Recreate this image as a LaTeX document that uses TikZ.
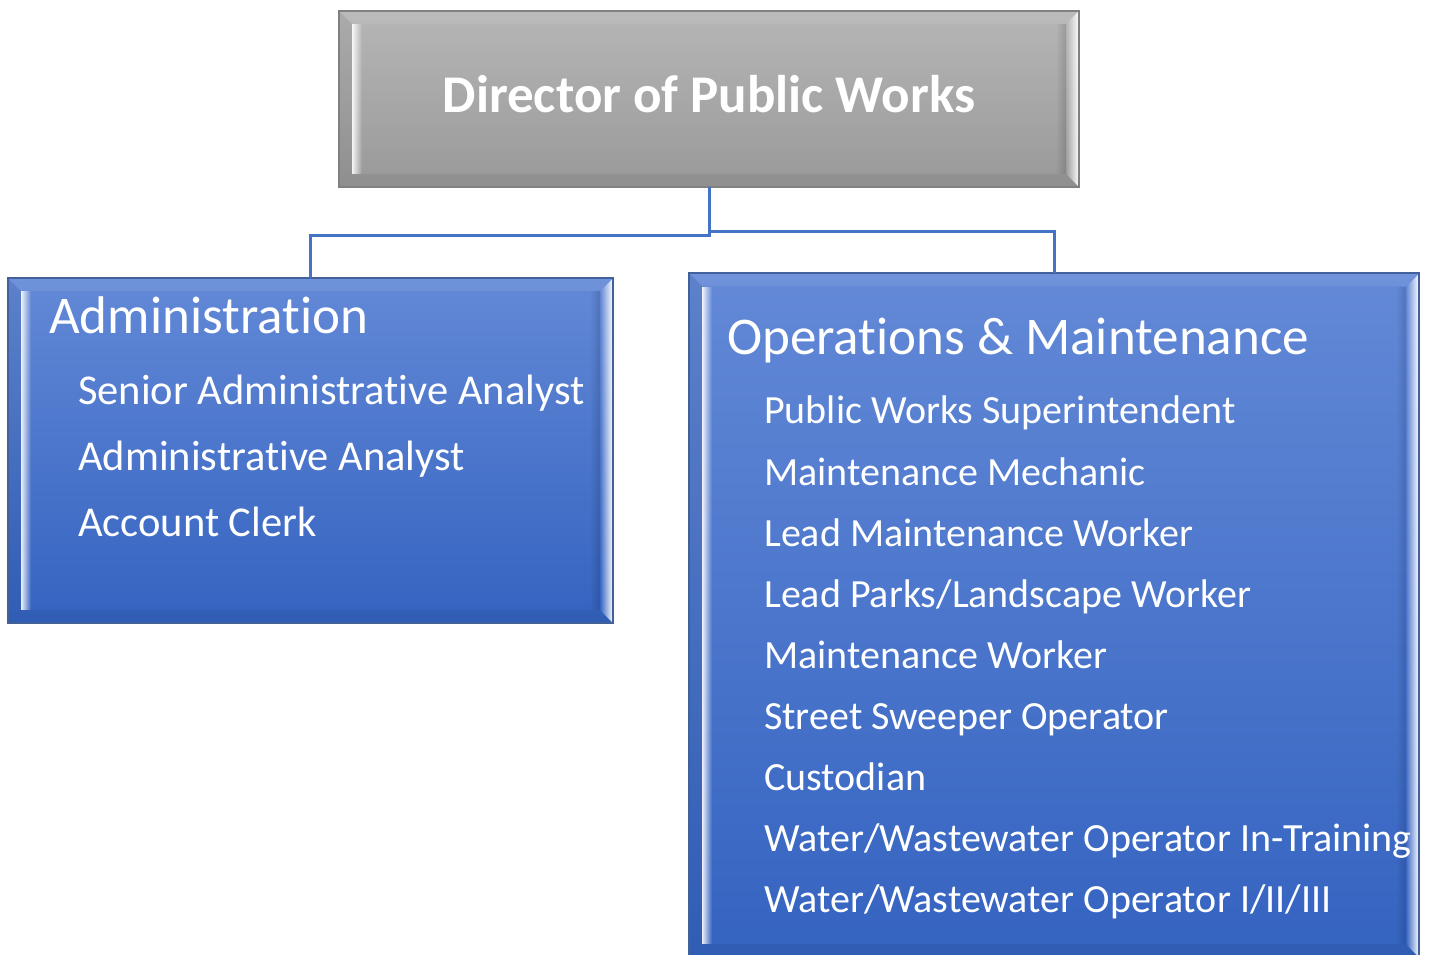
\documentclass[tikz,border=0pt]{standalone}
\usepackage{fontspec}
\setmainfont{Carlito}[Ligatures=NoCommon]
\usetikzlibrary{fadings}
\definecolor{grayTop}{HTML}{B6B6B6}
\definecolor{grayBot}{HTML}{999999}
\definecolor{grayLine}{HTML}{808080}
\definecolor{blueTop}{HTML}{6389D7}
\definecolor{blueBot}{HTML}{3463C0}
\definecolor{blueLine}{HTML}{42609A}
\definecolor{connBlue}{HTML}{4472C4}
\tikzset{
  bevel/.style={path picture={
    \fill[black,opacity=.06] (path picture bounding box.north west) -- ++(13pt,-13pt)
      -- ([shift={(13pt,13pt)}]path picture bounding box.south west)
      -- (path picture bounding box.south west) -- cycle;
    \fill[white,opacity=.9,path fading=east] ([shift={(13pt,-13pt)}]path picture bounding box.north west)
      rectangle ([shift={(23pt,13pt)}]path picture bounding box.south west);
    \fill[white,opacity=.08] (path picture bounding box.north west) -- (path picture bounding box.north east)
      -- ++(-13pt,-13pt) -- ([shift={(13pt,-13pt)}]path picture bounding box.north west) -- cycle;
    \fill[black,opacity=.06] (path picture bounding box.south west) -- (path picture bounding box.south east)
      -- ++(-13pt,13pt) -- ([shift={(13pt,13pt)}]path picture bounding box.south west) -- cycle;
    \fill[black,opacity=.15,path fading=west] ([shift={(-23pt,-13pt)}]path picture bounding box.north east)
      rectangle ([shift={(-13pt,13pt)}]path picture bounding box.south east);
    \fill[white,opacity=1,path fading=west] (path picture bounding box.north east) -- (path picture bounding box.south east)
      -- ++(-13pt,13pt) -- ([shift={(-13pt,-13pt)}]path picture bounding box.north east) -- cycle;
  }},
  graybox/.style={rectangle, inner sep=0pt, outer sep=0pt, draw=grayLine, line width=1.5pt,
    top color=grayTop, bottom color=grayBot, bevel},
  bluebox/.style={rectangle, inner sep=0pt, outer sep=0pt, draw=blueLine, line width=1.5pt,
    top color=blueTop, bottom color=blueBot, bevel},
  title/.style={anchor=base, inner sep=0pt, text=white, font=\fontsize{53}{60}\selectfont\bfseries},
  head/.style={anchor=base west, inner sep=0pt, text=white, font=\fontsize{53}{60}\selectfont},
  aitem/.style={anchor=base west, inner sep=0pt, text=white, font=\fontsize{42.5}{48}\selectfont},
  item/.style={anchor=base west, inner sep=0pt, text=white, font=\fontsize{40}{48}\selectfont},
  conn/.style={draw=connBlue, line width=3pt}
}
\begin{document}
\begin{tikzpicture}[x=1pt,y=-1pt]
\useasboundingbox[fill=white] (0,0) rectangle (1430,955);
% boxes
\node[graybox, minimum width=740pt, minimum height=176pt] (dir) at (709,99) {};
\node[bluebox, minimum width=605pt, minimum height=345pt] (admin) at (310.5,450.5) {};
\node[bluebox, minimum width=730pt, minimum height=684pt] (ops) at (1054,615) {};
% connectors
\draw[conn] (dir.south) -- ++(0,48) -| (admin.north);
\draw[conn] (dir.south) -- ++(0,44) -| (ops.north);
% texts
\node[title] (dirt) at (709,113) {Director of Public Works};
\node[head] (adh) at (49,333) {Administration};
\node[aitem] (ad1) at (78,404) {Senior Administrative Analyst};
\node[aitem] (ad2) at (78,470) {Administrative Analyst};
\node[aitem] (ad3) at (78,536) {Account Clerk};
\node[head] (oph) at (727,354) {Operations \& Maintenance};
\node[item] (op1) at (764,423) {Public Works Superintendent};
\node[item] (op2) at (764,485) {Maintenance Mechanic};
\node[item] (op3) at (764,546) {Lead Maintenance Worker};
\node[item] (op4) at (764,607) {Lead Parks/Landscape Worker};
\node[item] (op5) at (764,668) {Maintenance Worker};
\node[item] (op6) at (764,729) {Street Sweeper Operator};
\node[item] (op7) at (764,790) {Custodian};
\node[item] (op8) at (764,851) {Water/Wastewater Operator In-Training};
\node[item] (op9) at (764,912) {Water/Wastewater Operator I/II/III};
\end{tikzpicture}
\end{document}
